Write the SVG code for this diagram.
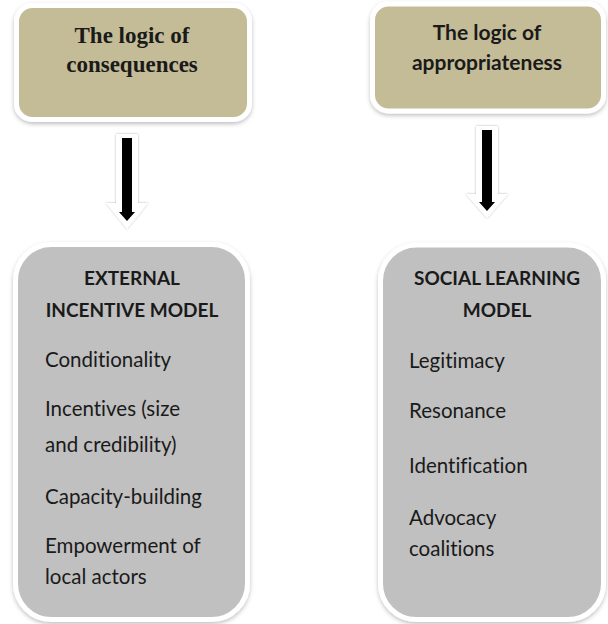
<svg xmlns="http://www.w3.org/2000/svg" width="608" height="624" viewBox="0 0 608 624">
<defs>
<filter id="sh" x="-10%" y="-10%" width="120%" height="125%">
<feDropShadow dx="0" dy="2" stdDeviation="2" flood-color="#000" flood-opacity="0.25"/>
</filter>
<filter id="sh2" x="-50%" y="-10%" width="200%" height="130%">
<feDropShadow dx="0" dy="0" stdDeviation="1.2" flood-color="#000" flood-opacity="0.3"/>
</filter>
</defs>
<style>
text{font-variant-ligatures:none}
.top{fill:#c4bc97;stroke:#fff;stroke-width:5;filter:url(#sh)}
.bot{fill:#c0c0c0;stroke:#fff;stroke-width:5;filter:url(#sh)}
.ts{font-family:"Liberation Serif",serif;font-weight:bold;font-size:23px;fill:#1a1a1a;text-anchor:middle}
.tc{font-family:Lato,"Open Sans",sans-serif;font-weight:bold;font-size:21px;fill:#1a1a1a;text-anchor:middle}
.h{font-family:Lato,"Open Sans",sans-serif;font-weight:bold;font-size:19px;fill:#1a1a1a;text-anchor:middle}
.i{font-family:Lato,"Open Sans",sans-serif;font-size:20.5px;fill:#1a1a1a}
.wa{fill:#fff;filter:url(#sh2)}
.ba{fill:#000}
</style>
<g id="connectors">
<path class="wa" d="M116,134 H138 V203 H148 L127,229 L106,203 H116 Z"/>
<path class="ba" d="M122,138 H132 V212 H135 L127,221 L119,212 H122 Z"/>
<path class="wa" d="M476,126 H498 V194 H508 L487,218 L466,194 H476 Z"/>
<path class="ba" d="M482,130 H492 V202 H495 L487,211 L479,202 H482 Z"/>
</g>
<g id="n1">
<rect class="top" x="16.5" y="5.5" width="233" height="114" rx="16"/>
<text class="ts" x="132" y="43">The logic of</text>
<text class="ts" x="132" y="72">consequences</text>
</g>
<g id="n2">
<rect class="top" x="372.5" y="4" width="231" height="107" rx="16"/>
<text class="tc" x="487" y="40">The logic of</text>
<text class="tc" x="487" y="70">appropriateness</text>
</g>
<g id="n3">
<rect class="bot" x="15.5" y="244.5" width="232" height="375" rx="36"/>
<text class="h" x="132" y="285">EXTERNAL</text>
<text class="h" x="132" y="317">INCENTIVE MODEL</text>
<text class="i" x="45" y="367">Conditionality</text>
<text class="i" x="45" y="416">Incentives (size</text>
<text class="i" x="45" y="452">and credibility)</text>
<text class="i" x="45" y="504">Capacity-building</text>
<text class="i" x="45" y="553">Empowerment of</text>
<text class="i" x="45" y="584">local actors</text>
</g>
<g id="n4">
<rect class="bot" x="380.5" y="245" width="223" height="374.5" rx="36"/>
<text class="h" x="497" y="285">SOCIAL LEARNING</text>
<text class="h" x="497" y="317">MODEL</text>
<text class="i" x="409" y="368">Legitimacy</text>
<text class="i" x="409" y="418">Resonance</text>
<text class="i" x="409" y="473">Identification</text>
<text class="i" x="409" y="525">Advocacy</text>
<text class="i" x="409" y="556">coalitions</text>
</g>
</svg>
